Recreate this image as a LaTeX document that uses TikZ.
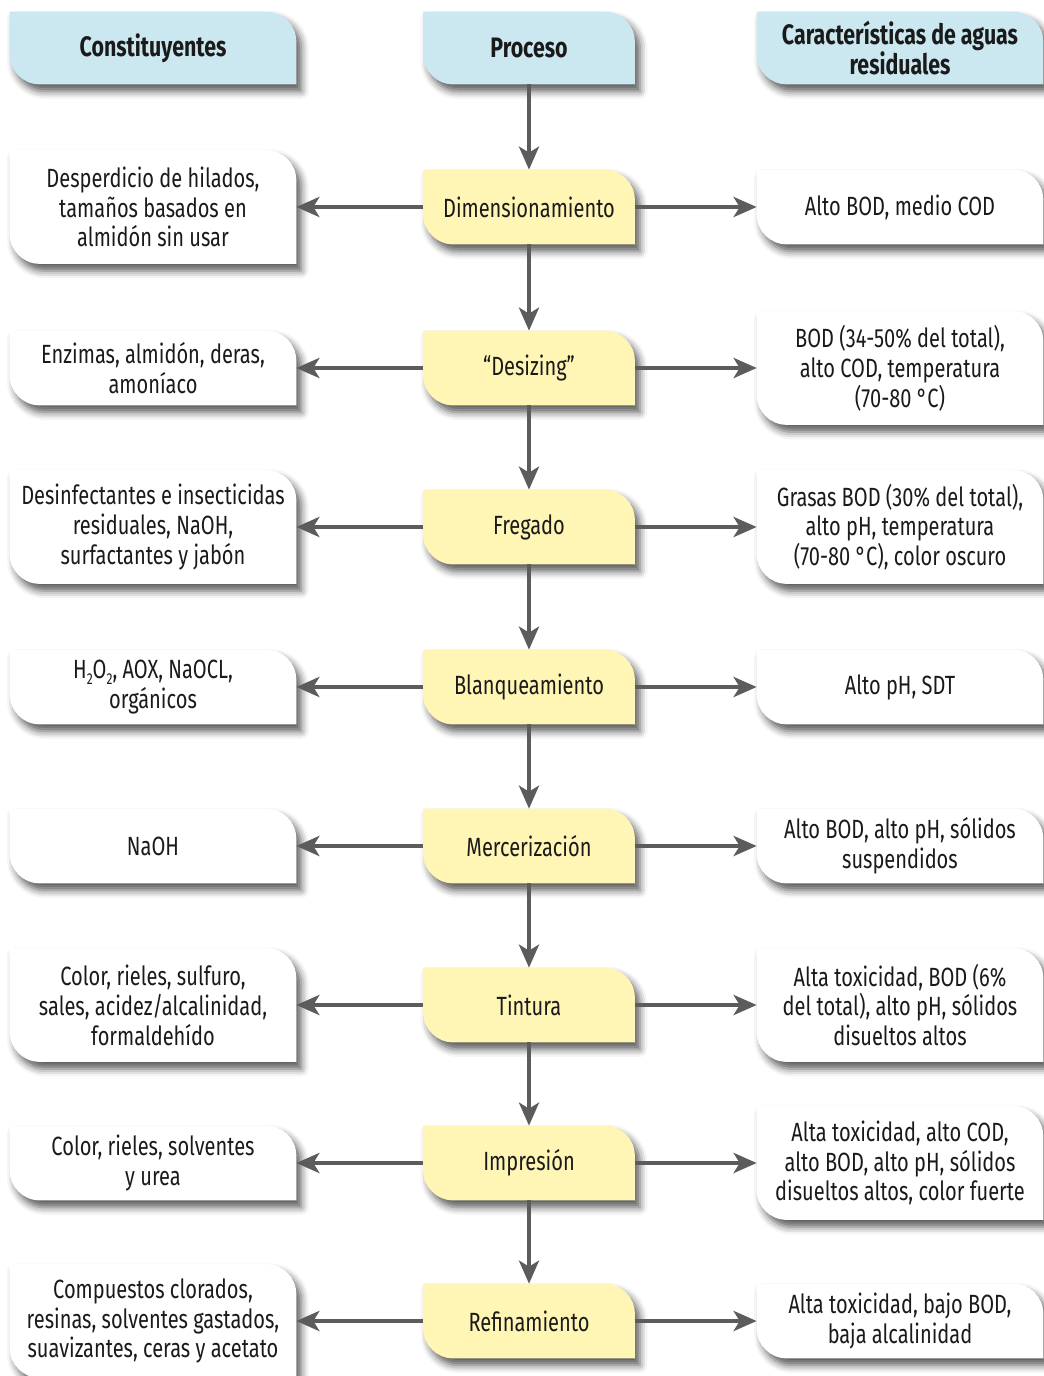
\documentclass[tikz,border=0pt]{standalone}
\usepackage{fontspec}
\setmainfont{Fira Sans}[FakeStretch=0.76]
\usetikzlibrary{arrows.meta,positioning,backgrounds,shadows.blur}
\definecolor{Tinta}{HTML}{1A1A1A}
\definecolor{Celeste}{HTML}{CBE7F0}
\definecolor{Crema}{HTML}{FFF5B5}
\definecolor{Gris}{HTML}{5C5C5C}
\tikzset{
  caja/.style={minimum width=5.72cm,inner sep=0pt,align=center,text=Tinta,
    font=\fontsize{15}{17}\selectfont},
  proceso/.style={caja,minimum width=4.22cm,minimum height=1.48cm},
  cabeza/.style={caja,minimum height=1.44cm,font=\fontsize{16}{17}\selectfont\bfseries},
  flecha/.style={draw=Gris,line width=2.4pt,
    -{Stealth[length=0.46cm,width=0.4cm,inset=0.12cm]}},
  sombra/.style={blur shadow={shadow xshift=0.1cm,shadow yshift=-0.14cm,
    shadow blur radius=0.15cm,shadow opacity=65}}
}
\newcommand{\radio}{0.6cm}
% fondo con dos esquinas redondeadas
\newcommand{\fondo}[2]{%
  \fill[#2,sombra] (#1.north west) -- ([xshift=-\radio]#1.north east)
    arc[start angle=90,end angle=0,radius=\radio] -- (#1.south east)
    -- ([xshift=\radio]#1.south west)
    arc[start angle=270,end angle=180,radius=\radio] -- cycle;
}
\newcommand{\etapa}[7]{%
  \node[caja,minimum height=#4] (c#1) at (153,-#2) {#3};
  \node[proceso] (p#1) at (529,-#2) {#5};
  \node[caja,minimum height=#7] (w#1) at (900,-#2) {#6};
}
\newcommand{\sub}[1]{\raisebox{-0.45ex}{\fontsize{9}{9}\selectfont#1}}
\begin{document}
\begin{tikzpicture}[x=0.02cm,y=0.02cm]
  \useasboundingbox (0,0) rectangle (1044,-1376);
  \node[cabeza] (hcon) at (153,-48) {Constituyentes};
  \node[cabeza,minimum width=4.22cm] (hpro) at (529,-48) {Proceso};
  \node[cabeza] (hcar) at (900,-48) {Características de aguas\\residuales};

  \etapa{1}{207}{Desperdicio de hilados,\\tamaños basados en\\almidón sin usar}{2.26cm}%
    {Dimensionamiento}{Alto BOD, medio COD}{1.48cm}
  \etapa{2}{368}{Enzimas, almidón, deras,\\amoníaco}{1.48cm}%
    {“Desizing”}{BOD (34-50\% del total),\\alto COD, temperatura\\(70-80 °C)}{2.26cm}
  \etapa{3}{527}{Desinfectantes e insecticidas\\residuales, NaOH,\\surfactantes y jabón}{2.26cm}%
    {Fregado}{Grasas BOD (30\% del total),\\alto pH, temperatura\\(70-80 °C), color oscuro}{2.26cm}
  \etapa{4}{687}{H\sub{2}O\sub{2}, AOX, NaOCL,\\orgánicos}{1.48cm}%
    {Blanqueamiento}{Alto pH, SDT}{1.48cm}
  \etapa{5}{846}{NaOH}{1.48cm}%
    {Mercerización}{Alto BOD, alto pH, sólidos\\suspendidos}{1.48cm}
  \etapa{6}{1005}{Color, rieles, sulfuro,\\sales, acidez/alcalinidad,\\formaldehído}{2.26cm}%
    {Tintura}{Alta toxicidad, BOD (6\%\\del total), alto pH, sólidos\\disueltos altos}{2.26cm}
  \etapa{7}{1163}{Color, rieles, solventes\\y urea}{1.48cm}%
    {Impresión}{Alta toxicidad, alto COD,\\alto BOD, alto pH, sólidos\\disueltos altos, color fuerte}{2.26cm}
  \etapa{8}{1321}{Compuestos clorados,\\resinas, solventes gastados,\\suavizantes, ceras y acetato}{2.26cm}%
    {Refinamiento}{Alta toxicidad, bajo BOD,\\baja alcalinidad}{1.48cm}

  \begin{scope}[on background layer]
    \fondo{hcon}{Celeste}
    \fondo{hpro}{Celeste}
    \fondo{hcar}{Celeste}
    \foreach \i in {1,...,8}{
      \fondo{c\i}{white}
      \fondo{p\i}{Crema}
      \fondo{w\i}{white}
    }
  \end{scope}

  \draw[flecha] (hpro) -- (p1);
  \foreach \i [evaluate=\i as \j using int(\i+1)] in {1,...,7}
    \draw[flecha] (p\i) -- (p\j);
  \foreach \i in {1,...,8}{
    \draw[flecha] (p\i.west) -- (c\i.east);
    \draw[flecha] (p\i.east) -- (w\i.west);
  }
\end{tikzpicture}
\end{document}
